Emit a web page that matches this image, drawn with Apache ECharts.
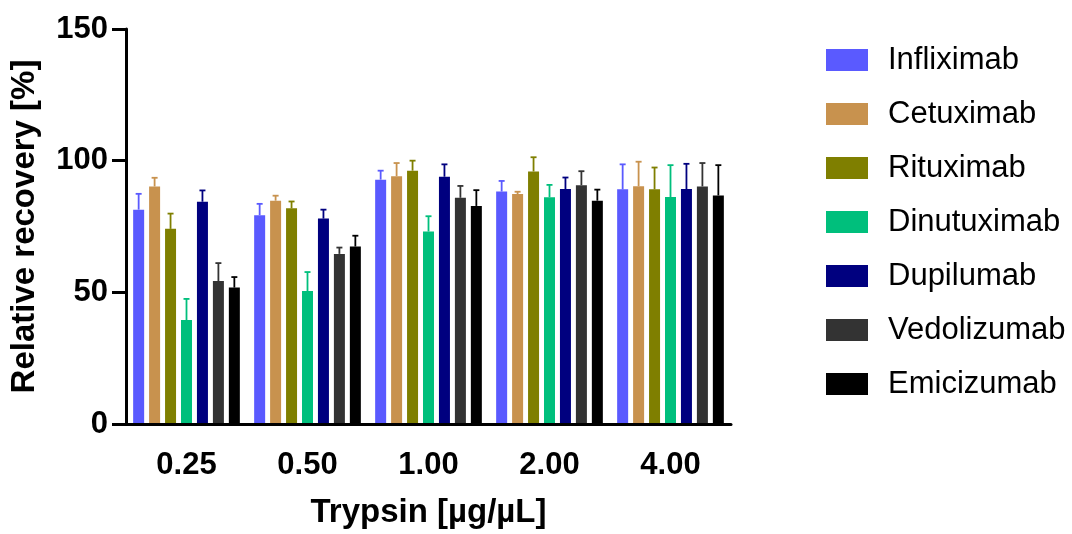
<!DOCTYPE html>
<html>
<head>
<meta charset="utf-8">
<script src="https://cdn.jsdelivr.net/npm/echarts@6/dist/echarts.min.js"></script>
<style>
html,body{margin:0;padding:0;background:#fff;}
#chart{width:1072px;height:534px;}
</style>
</head>
<body>
<div id="chart"></div>
<script>
const categories = ['0.25', '0.50', '1.00', '2.00', '4.00'];
const seriesNames = ['Infliximab', 'Cetuximab', 'Rituximab', 'Dinutuximab', 'Dupilumab', 'Vedolizumab', 'Emicizumab'];
const colors = ['#5a5aff', '#c8924e', '#7f7f00', '#00bf7c', '#00007f', '#333333', '#000000'];

const infliximab  = [81.4, 79.3, 92.8, 88.3, 89.1];
const cetuximab   = [90.2, 84.8, 94.1, 87.3, 90.3];
const rituximab   = [74.1, 81.9, 96.2, 95.9, 89.1];
const dinutuximab = [39.5, 50.5, 73.1, 86.1, 86.2];
const dupilumab   = [84.4, 78.0, 93.9, 89.2, 89.2];
const vedolizumab = [54.3, 64.6, 85.9, 90.7, 90.2];
const emicizumab  = [51.8, 67.4, 82.8, 84.8, 86.8];

const infliximabSD  = [6.0, 4.3, 3.4, 4.0, 9.5];
const cetuximabSD   = [3.3, 1.9, 5.0, 0.9, 9.3];
const rituximabSD   = [5.8, 2.6, 3.8, 5.4, 8.3];
const dinutuximabSD = [8.0, 7.2, 5.8, 4.7, 12.1];
const dupilumabSD   = [4.3, 3.4, 4.7, 4.4, 9.6];
const vedolizumabSD = [6.8, 2.4, 4.5, 5.3, 8.9];
const emicizumabSD  = [4.0, 4.1, 6.0, 4.2, 11.5];

const yTicks = [0, 50, 100, 150];

const means = [infliximab, cetuximab, rituximab, dinutuximab, dupilumab, vedolizumab, emicizumab];
const sds = [infliximabSD, cetuximabSD, rituximabSD, dinutuximabSD, dupilumabSD, vedolizumabSD, emicizumabSD];

const BAR_W = 11;
const BAR_GAP = 0.45;
const nSeries = seriesNames.length;
const FONT = 'Liberation Sans, Arial, sans-serif';

const series = [];
seriesNames.forEach((name, k) => {
  series.push({
    name: name,
    type: 'bar',
    data: means[k],
    barWidth: BAR_W,
    barGap: (BAR_GAP * 100) + '%',
    itemStyle: { color: colors[k] },
    z: 2
  });
});
seriesNames.forEach((name, k) => {
  series.push({
    name: name + ' SD',
    type: 'custom',
    data: means[k].map((v, i) => [i, v, sds[k][i]]),
    encode: { x: 0, y: 1 },
    z: 3,
    renderItem: function (params, api) {
      const ci = api.value(0), v = api.value(1), e = api.value(2);
      const off = (k - (nSeries - 1) / 2) * BAR_W * (1 + BAR_GAP);
      const p0 = api.coord([ci, v]);
      const p1 = api.coord([ci, v + e]);
      const x = p0[0] + off;
      const st = { stroke: colors[k], lineWidth: 1.8 };
      return {
        type: 'group',
        children: [
          { type: 'line', shape: { x1: x, y1: p0[1], x2: x, y2: p1[1] }, style: st },
          { type: 'line', shape: { x1: x - 3, y1: p1[1], x2: x + 3, y2: p1[1] }, style: st }
        ]
      };
    }
  });
});

const chart = echarts.init(document.getElementById('chart'), null, { renderer: 'canvas' });
chart.setOption({
  animation: false,
  backgroundColor: '#ffffff',
  textStyle: { fontFamily: FONT },
  grid: { left: 126, top: 29, width: 605, height: 398 },
  legend: {
    data: seriesNames,
    orient: 'vertical',
    left: 821,
    top: 39,
    icon: 'rect',
    itemWidth: 42,
    itemHeight: 22,
    itemGap: 22,
    selectedMode: false,
    textStyle: { fontSize: 31, color: '#000', fontFamily: FONT, lineHeight: 32, padding: [0, 0, 0, 15] }
  },
  xAxis: {
    type: 'category',
    data: categories,
    z: 5,
    name: 'Trypsin [µg/µL]',
    nameLocation: 'middle',
    nameGap: 72,
    nameTextStyle: { fontSize: 33, fontWeight: 'bold', color: '#000', fontFamily: FONT },
    axisLine: { lineStyle: { color: '#000', width: 3 } },
    axisTick: { alignWithLabel: true, length: 16, lineStyle: { color: '#000', width: 3 } },
    axisLabel: { fontSize: 31, fontWeight: 'bold', color: '#000', margin: 26, fontFamily: FONT }
  },
  yAxis: {
    type: 'value',
    min: yTicks[0],
    max: yTicks[yTicks.length - 1],
    interval: 50,
    z: 5,
    name: 'Relative recovery [%]',
    nameLocation: 'middle',
    nameGap: 85,
    nameTextStyle: { fontSize: 33, fontWeight: 'bold', color: '#000', fontFamily: FONT },
    splitLine: { show: false },
    axisLine: { show: true, lineStyle: { color: '#000', width: 3 } },
    axisTick: { show: true, length: 14, lineStyle: { color: '#000', width: 3 } },
    axisLabel: { fontSize: 31, fontWeight: 'bold', color: '#000', margin: 18, fontFamily: FONT }
  },
  series: series
});
</script>
</body>
</html>
